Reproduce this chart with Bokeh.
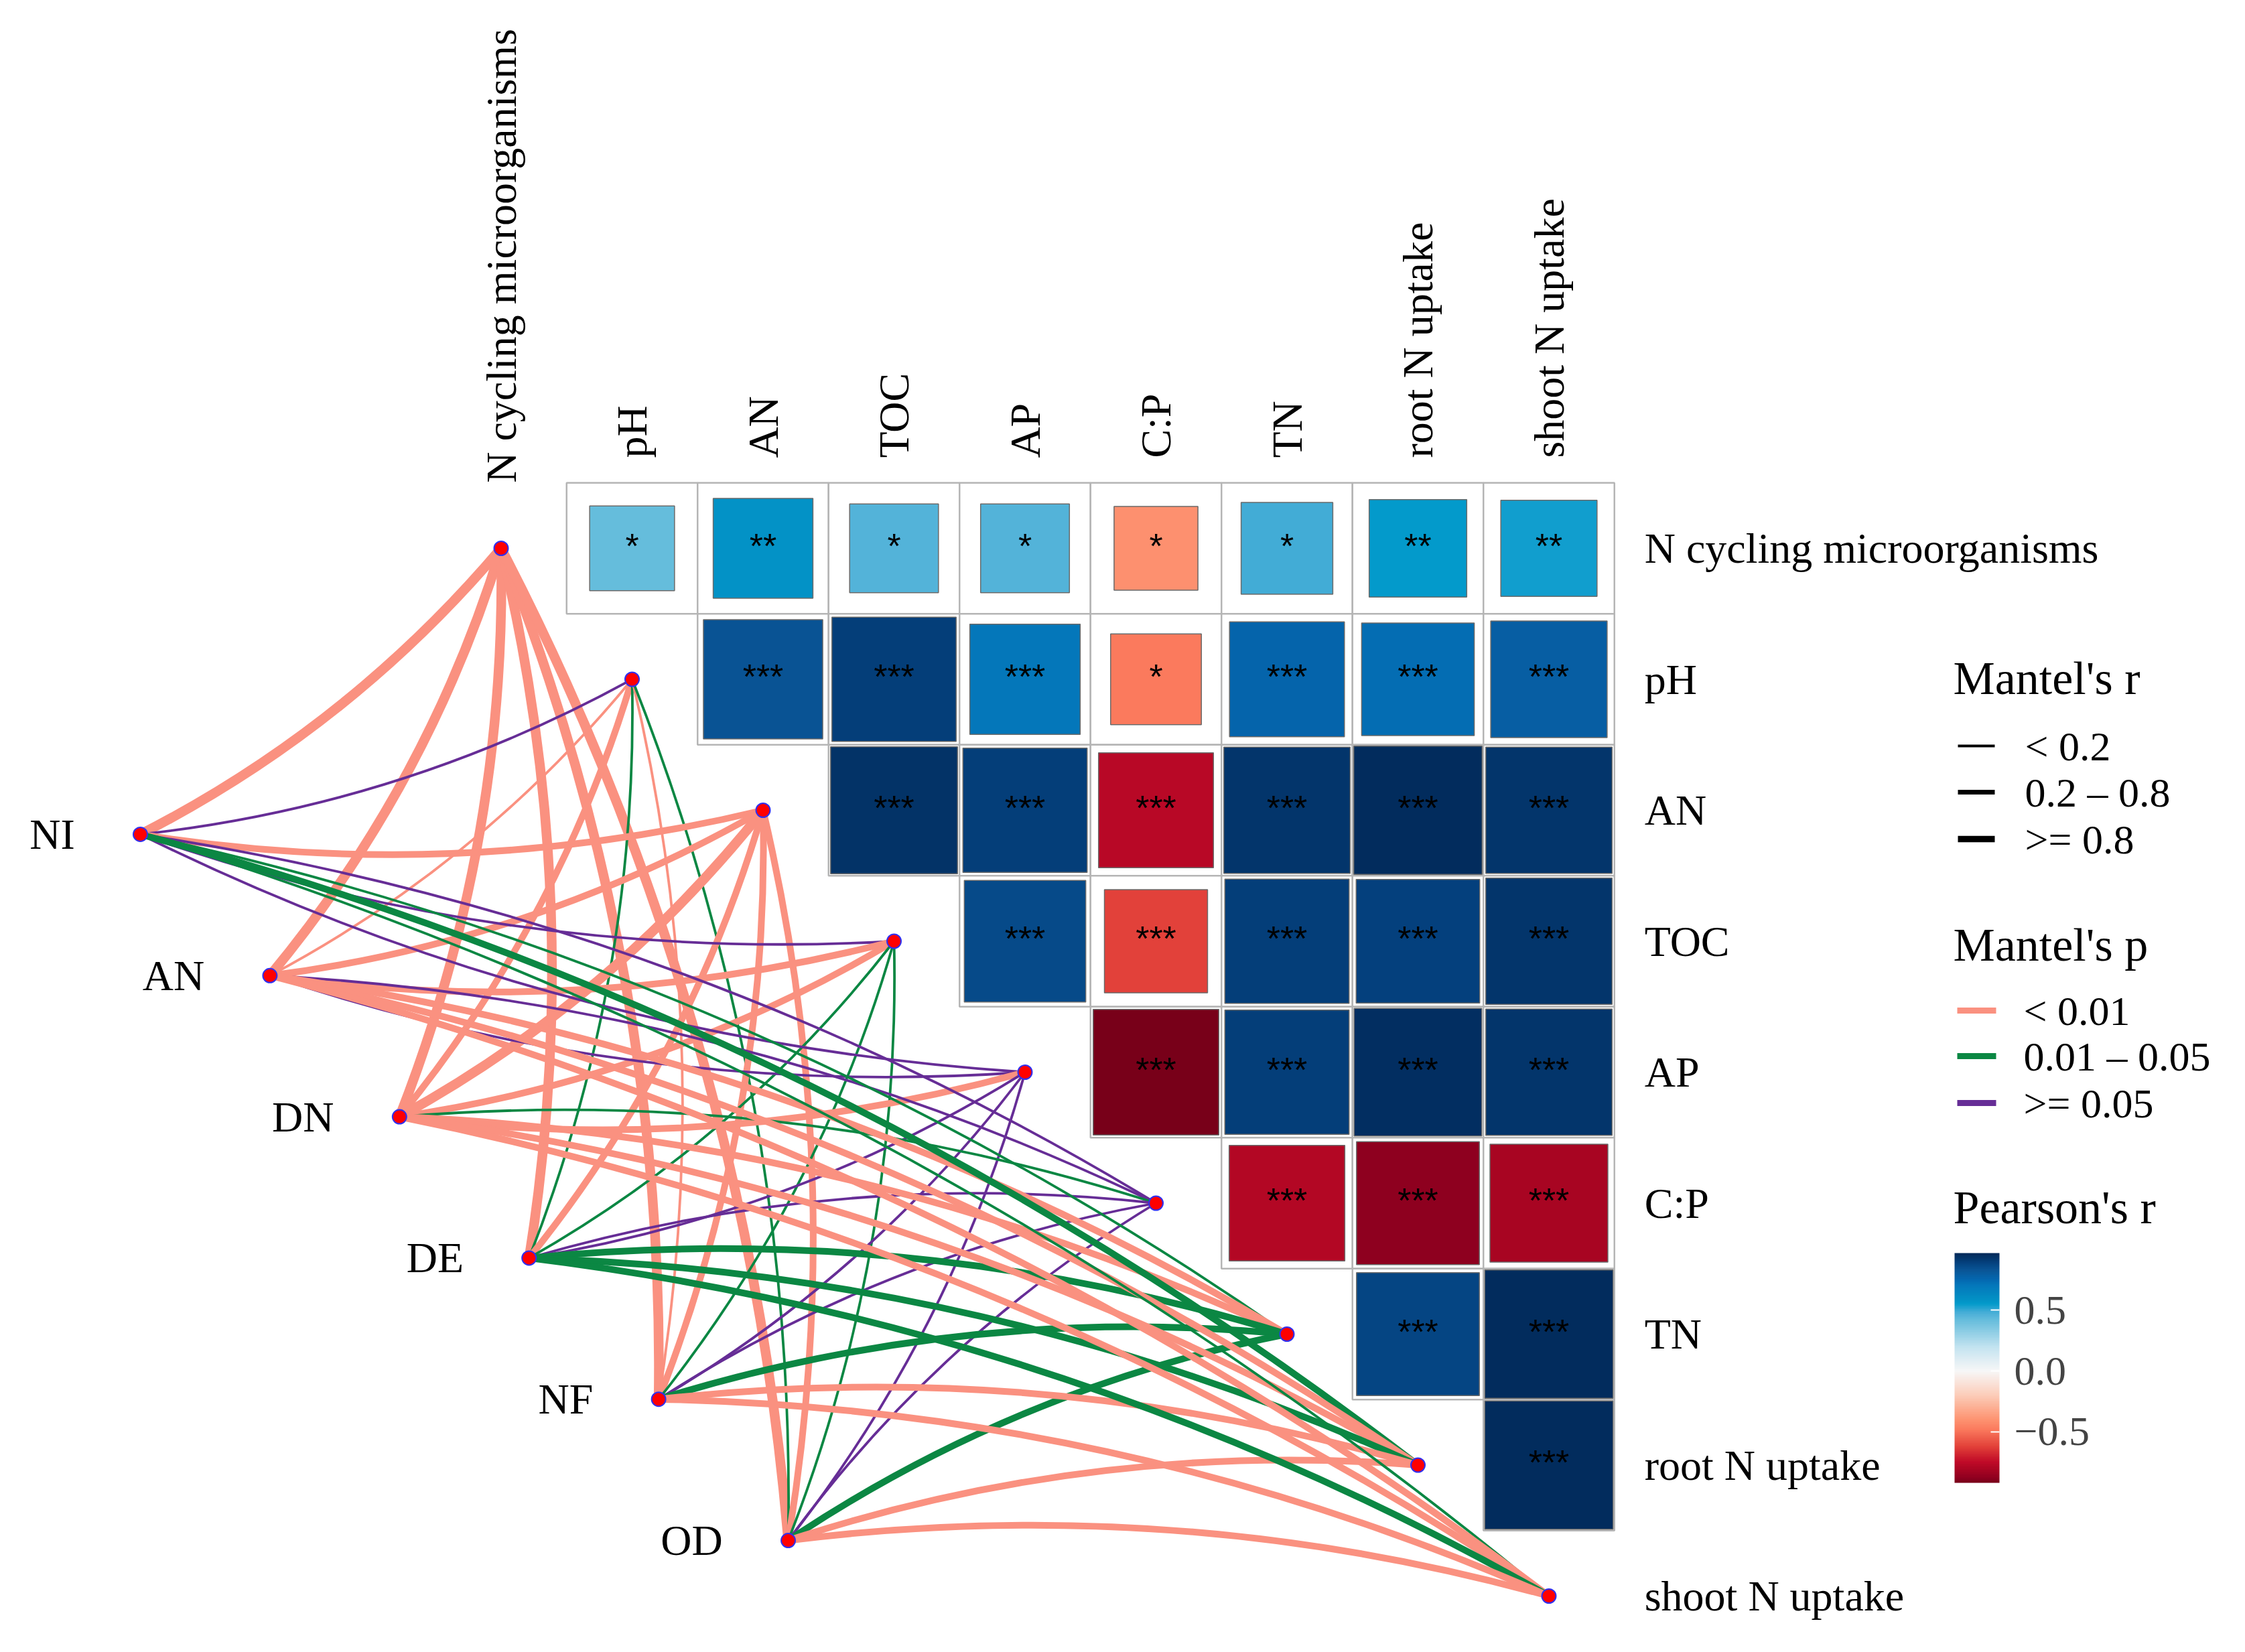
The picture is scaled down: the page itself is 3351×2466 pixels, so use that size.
import numpy as np
from bokeh.plotting import figure
from bokeh.models import Range1d, ColumnDataSource, LinearColorMapper, ColorBar, FixedTicker
from bokeh.core.properties import value
from bokeh.embed import file_html
from bokeh.resources import INLINE

# ---------------- data ----------------
spec_label = "N cycling microorganisms"
env_labels = ["pH", "AN", "TOC", "AP", "C:P", "TN", "root N uptake", "shoot N uptake"]

# Pearson's r (upper triangle). Each row lists the columns to the right of the row's diagonal.
r_ncyc = [0.42, 0.58, 0.46, 0.46, -0.41, 0.49, 0.555, 0.54]   # pH .. shoot N uptake
r_ph   = [0.83, 0.90, 0.71, -0.48, 0.77, 0.74, 0.79]          # AN .. shoot N uptake
r_an   = [0.94, 0.90, -0.77, 0.93, 0.96, 0.93]                # TOC .. shoot N uptake
r_toc  = [0.86, -0.62, 0.90, 0.89, 0.93]                      # AP .. shoot N uptake
r_ap   = [-0.92, 0.90, 0.95, 0.93]                            # C:P .. shoot N uptake
r_cp   = [-0.78, -0.88, -0.81]                                # TN .. shoot N uptake
r_tn   = [0.88, 0.96]                                         # root, shoot
r_root = [0.96]                                               # shoot

sig_ncyc = ["*", "**", "*", "*", "*", "*", "**", "**"]
sig_ph   = ["***", "***", "***", "*", "***", "***", "***"]
sig_an   = ["***", "***", "***", "***", "***", "***"]
sig_toc  = ["***", "***", "***", "***", "***"]
sig_ap   = ["***", "***", "***", "***"]
sig_cp   = ["***", "***", "***"]
sig_tn   = ["***", "***"]
sig_root = ["***"]

# Mantel test: sources and their links to [N cycling, pH, AN, TOC, AP, C:P, TN, root, shoot]
mantel_sources = ["NI", "AN", "DN", "DE", "NF", "OD"]
p_levels = ["< 0.01", "0.01 \u2013 0.05", ">= 0.05"]
r_levels = ["< 0.2", "0.2 \u2013 0.8", ">= 0.8"]
# codes: index into p_levels / r_levels
p_NI = [0, 2, 0, 2, 2, 2, 1, 1, 1]
p_AN = [0, 0, 0, 0, 2, 2, 0, 0, 0]
p_DN = [0, 0, 0, 0, 0, 1, 0, 0, 0]
p_DE = [0, 1, 0, 1, 2, 2, 1, 1, 1]
p_NF = [0, 0, 0, 1, 2, 2, 1, 0, 0]
p_OD = [0, 1, 0, 1, 2, 2, 1, 0, 0]
r_NI = [2, 0, 1, 0, 0, 0, 0, 1, 0]
r_AN = [2, 0, 1, 1, 0, 0, 1, 1, 1]
r_DN = [2, 1, 2, 1, 1, 0, 1, 1, 1]
r_DE = [2, 0, 1, 0, 0, 0, 1, 1, 1]
r_NF = [2, 0, 1, 0, 0, 0, 1, 1, 1]
r_OD = [2, 0, 1, 0, 0, 0, 1, 1, 1]

colorbar_ticks = [-0.5, 0.0, 0.5]

# ---------------- styling ----------------
p_colors = ["#FA9180", "#0B8743", "#662D96"]
r_widths = [3.8, 10.0, 14.5]
SERIF = "Liberation Serif"
LABEL_SIZE = "64px"
TITLE_SIZE = "70px"

# colour ramp anchors (value, colour)
ramp = [(-0.92, "#780019"), (-0.88, "#900020"), (-0.80, "#AE0623"), (-0.75, "#C00A28"),
        (-0.62, "#E3433A"), (-0.48, "#FB7B5E"), (-0.40, "#FD9371"), (-0.20, "#FCCDB9"),
        (0.0, "#F7F7F7"), (0.20, "#C2E3F0"), (0.42, "#66BDDC"), (0.46, "#52B3D9"),
        (0.49, "#41ACD6"), (0.555, "#039ACB"), (0.58, "#0393C6"), (0.71, "#0477BA"),
        (0.76, "#0466AE"), (0.83, "#0A5596"), (0.86, "#064C8C"), (0.90, "#043F7B"),
        (0.93, "#03366C"), (0.97, "#022A5A")]
LOW, HIGH = ramp[0][0], ramp[-1][0]

def hex2rgb(h):
    return np.array([int(h[i:i + 2], 16) for i in (1, 3, 5)], dtype=float)

vals = np.array([a for a, _ in ramp])
cols = np.array([hex2rgb(c) for _, c in ramp])
grid_v = np.linspace(LOW, HIGH, 256)
palette = []
for v in grid_v:
    rgb = [np.interp(v, vals, cols[:, k]) for k in range(3)]
    palette.append("#%02x%02x%02x" % tuple(int(round(c)) for c in rgb))
mapper = LinearColorMapper(palette=palette, low=LOW, high=HIGH)

# ---------------- layout geometry (screen px) ----------------
W, H = 3335, 2450
PITCH = 195.5          # px per cell
X0, Y0 = 943.0, 818.0  # screenshot px of column 0 / row 0 centres
OFF = 0                # figure origin in the screenshot


def ux(X):
    return (X - X0) / PITCH


def uy(Y):
    return (Y - Y0) / PITCH


p = figure(width=W, height=H, output_backend="svg", toolbar_location=None,
           x_range=Range1d(ux(OFF), ux(OFF + W)), y_range=Range1d(uy(OFF + H), uy(OFF)),
           x_axis_type=None, y_axis_type=None, min_border=0)
p.grid.visible = False
p.outline_line_color = None
p.background_fill_color = "white"

# ---------------- heatmap ----------------
rows_r = [r_ncyc, r_ph, r_an, r_toc, r_ap, r_cp, r_tn, r_root]
rows_s = [sig_ncyc, sig_ph, sig_an, sig_toc, sig_ap, sig_cp, sig_tn, sig_root]
cx, cy, cr, cs, side = [], [], [], [], []
for j, (rr, ss) in enumerate(zip(rows_r, rows_s)):
    start = j  # first column index of this row
    for k, (rv, sv) in enumerate(zip(rr, ss)):
        cx.append(start + k)
        cy.append(j)
        cr.append(rv)
        cs.append(sv)
        side.append(np.sqrt(abs(rv)))
hm = ColumnDataSource(dict(x=cx, y=cy, r=cr, s=cs, side=side,
                           sy=[v - 0.02 for v in cy]))
p.rect(x="x", y="y", width=1, height=1, source=hm, fill_color="white",
       line_color="#B5B5B5", line_width=2.5)
p.rect(x="x", y="y", width="side", height="side", source=hm,
       fill_color={"field": "r", "transform": mapper}, line_color="#6A6A6A", line_width=1.5)
p.text(x="x", y="sy", text="s", source=hm, text_align="center", text_baseline="middle",
       text_font=value("Liberation Sans"), text_font_size="52px", text_color="black")

# ---------------- node positions ----------------
targets = [spec_label] + env_labels
tx = [-1] + list(range(len(env_labels)))
ty = list(range(len(targets)))
ns = len(mantel_sources)
sx = [-3.7545 + 0.9893 * k for k in range(ns)]
sy = [2.184 + 1.0783 * k for k in range(ns)]

# ---------------- edges (drawn target by target) ----------------
p_all = [p_NI, p_AN, p_DN, p_DE, p_NF, p_OD]
r_all = [r_NI, r_AN, r_DN, r_DE, r_NF, r_OD]
e = dict(x0=[], y0=[], x1=[], y1=[], cx=[], cy=[], color=[], width=[])
for t in range(len(targets)):
    for i in range(ns):
        x0, y0, x1, y1 = sx[i], sy[i], tx[t], ty[t]
        dx, dy = x1 - x0, y1 - y0
        sgn = 1.0 if ty[t] <= 4 else -1.0
        k = 0.10
        e["x0"].append(x0); e["y0"].append(y0); e["x1"].append(x1); e["y1"].append(y1)
        e["cx"].append((x0 + x1) / 2 + sgn * k * (-dy))
        e["cy"].append((y0 + y1) / 2 + sgn * k * dx)
        e["color"].append(p_colors[p_all[i][t]])
        e["width"].append(r_widths[r_all[i][t]])
p.quadratic(x0="x0", y0="y0", x1="x1", y1="y1", cx="cx", cy="cy",
            line_color="color", line_width="width", source=ColumnDataSource(e))

# nodes
p.scatter(x=tx, y=ty, marker="circle", size=21, fill_color="#FF0000",
          line_color="#3030F0", line_width=2)
p.scatter(x=sx, y=sy, marker="circle", size=21, fill_color="#FF0000",
          line_color="#3030F0", line_width=2)

# ---------------- labels ----------------
p.text(x=[s - 0.50 for s in sx], y=sy, text=mantel_sources, text_align="right",
       text_baseline="middle", text_font=value(SERIF), text_font_size=LABEL_SIZE)
p.text(x=[7.5 + 0.23] * len(targets), y=ty, text=targets, text_align="left",
       text_baseline="middle", text_font=value(SERIF), text_font_size=LABEL_SIZE)
top_y = [-0.50] + [-0.69] * len(env_labels)
p.text(x=tx, y=top_y, text=targets, angle=np.pi / 2, text_align="left",
       text_baseline="middle", text_font=value(SERIF), text_font_size=LABEL_SIZE)

# ---------------- legends ----------------
p.text(x=[ux(2915)] * 3, y=[uy(1012), uy(1410), uy(1802)],
       text=["Mantel's r", "Mantel's p", "Pearson's r"], text_align="left",
       text_baseline="middle", text_font=value(SERIF), text_font_size=TITLE_SIZE)
ry = [uy(1113), uy(1182), uy(1252)]
p.segment(x0=[ux(2922)] * 3, x1=[ux(2977)] * 3, y0=ry, y1=ry, line_color="black",
          line_width=[4, 7, 9.5])
p.text(x=[ux(3022)] * 3, y=ry, text=r_levels, text_align="left", text_baseline="middle",
       text_font=value(SERIF), text_font_size="62px")
py_ = [uy(1508), uy(1576), uy(1646)]
p.segment(x0=[ux(2921)] * 3, x1=[ux(2979)] * 3, y0=py_, y1=py_, line_color=p_colors,
          line_width=9)
p.text(x=[ux(3020)] * 3, y=py_, text=p_levels, text_align="left", text_baseline="middle",
       text_font=value(SERIF), text_font_size="62px")

cb = ColorBar(color_mapper=mapper, ticker=FixedTicker(ticks=colorbar_ticks),
              width=67, height=343, location=(2917 - OFF, (OFF + H) - 2213),
              padding=0, margin=0, label_standoff=22, bar_line_color=None,
              major_tick_line_color="white", major_tick_line_width=2,
              major_tick_in=13, major_tick_out=0, minor_tick_line_color=None,
              background_fill_alpha=0, border_line_color=None,
              major_label_text_font=SERIF, major_label_text_font_size="62px",
              major_label_overrides={-0.5: "\u22120.5", 0.0: "0.0", 0.5: "0.5"})
p.add_layout(cb, "center")

open("out.html", "w").write(file_html(p, INLINE))
